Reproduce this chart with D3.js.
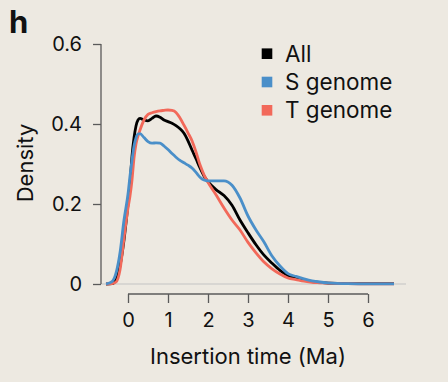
<!DOCTYPE html>
<html><head><meta charset="utf-8">
<script src="https://cdn.jsdelivr.net/npm/d3@7"></script>
<style>
html,body{margin:0;padding:0;background:#ede9e1;}
svg{display:block;font-family:Inter,Roboto,sans-serif;}
</style></head>
<body>
<svg id="chart" width="448" height="382"></svg>
<script>
// ---- data ----
const xs =     [-0.55,-0.4,-0.3,-0.2,-0.1,0,0.05,0.1,0.15,0.2,0.25,0.3,0.4,0.5,0.6,0.7,0.8,0.9,1.0,1.1,1.2,1.3,1.4,1.5,1.6,1.7,1.8,1.9,2.0,2.2,2.4,2.6,2.8,3.0,3.2,3.4,3.6,3.8,4.0,4.2,4.4,4.6,4.8,5.0,5.5,6.0,6.65];
const allVals =[0,0.001,0.01,0.045,0.11,0.2,0.25,0.32,0.365,0.395,0.41,0.414,0.41,0.408,0.414,0.42,0.417,0.41,0.406,0.402,0.396,0.388,0.377,0.358,0.335,0.313,0.29,0.27,0.256,0.236,0.221,0.197,0.16,0.128,0.098,0.072,0.052,0.034,0.021,0.016,0.01,0.006,0.004,0.002,0.001,0.001,0.001];
const sVals =  [0,0.006,0.027,0.078,0.16,0.225,0.27,0.31,0.345,0.365,0.375,0.376,0.366,0.356,0.352,0.353,0.352,0.345,0.336,0.326,0.317,0.309,0.303,0.297,0.29,0.279,0.267,0.26,0.258,0.258,0.258,0.247,0.215,0.17,0.135,0.105,0.07,0.045,0.026,0.019,0.013,0.008,0.005,0.003,0.001,0.0005,0.0005];
const tVals =  [0,0.001,0.005,0.035,0.115,0.19,0.22,0.26,0.315,0.35,0.37,0.385,0.41,0.424,0.428,0.431,0.433,0.434,0.435,0.434,0.429,0.415,0.397,0.378,0.358,0.33,0.298,0.273,0.254,0.223,0.19,0.16,0.135,0.104,0.078,0.055,0.038,0.025,0.015,0.011,0.007,0.004,0.003,0.002,0.001,0.0005,0.0005];
const seriesNames = ["All","S genome","T genome"];
const seriesColors = ["#000000","#4a8fc9","#f2695a"];
const xTicks = [0,1,2,3,4,5,6];
const yTicks = [0,0.2,0.4,0.6];
const yTickLabels = ["0","0.2","0.4","0.6"];

// ---- drawing ----
const svg = d3.select("#chart");
const x = d3.scaleLinear().domain([0,6]).range([128,368]);
const y = d3.scaleLinear().domain([0,0.6]).range([284,44]);
const axisColor = "#5a5a5a";
const FONT = "Inter, Roboto, sans-serif";

// panel letter
svg.append("text").attr("x",9).attr("y",33).attr("font-size",31).attr("font-weight","bold")
  .attr("font-family",FONT).attr("fill","#111").text("h");

// baseline
svg.append("line").attr("x1",101).attr("x2",406).attr("y1",y(0)).attr("y2",y(0))
  .attr("stroke","#c4c4c4").attr("stroke-width",1.2);

// y axis
const yAxis = svg.append("g").attr("transform","translate(101,0)")
  .call(d3.axisLeft(y).tickValues(yTicks).tickFormat((d,i)=>yTickLabels[i]).tickSize(8).tickPadding(11));
yAxis.select(".domain").attr("stroke",axisColor).attr("stroke-width",1.3).attr("d","M0,"+y(0.6)+"V"+y(0));
yAxis.selectAll(".tick line").attr("stroke",axisColor).attr("stroke-width",1.3);
yAxis.selectAll(".tick text").attr("font-size",20).attr("fill","#111").attr("font-family",FONT);

// x axis
const xAxis = svg.append("g").attr("transform","translate(0,294)")
  .call(d3.axisBottom(x).tickValues(xTicks).tickFormat(d3.format("d")).tickSize(9).tickPadding(10));
xAxis.select(".domain").attr("stroke",axisColor).attr("stroke-width",1.3).attr("d","M"+x(0)+",0H"+x(6));
xAxis.selectAll(".tick line").attr("stroke",axisColor).attr("stroke-width",1.3);
xAxis.selectAll(".tick text").attr("font-size",20).attr("fill","#111").attr("font-family",FONT);

// axis titles
svg.append("text").attr("x",248).attr("y",364).attr("text-anchor","middle").attr("font-family",FONT)
  .attr("font-size",22).attr("fill","#111").text("Insertion time (Ma)");
svg.append("text").attr("transform","translate(33,163) rotate(-90)").attr("text-anchor","middle")
  .attr("font-family",FONT).attr("font-size",22).attr("fill","#111").text("Density");

// lines
const line = d3.line().x(d=>x(d[0])).y(d=>y(d[1])).curve(d3.curveMonotoneX);
const seriesData = [allVals,sVals,tVals];
const drawOrder = [0,2,1];
drawOrder.forEach(i=>{
  svg.append("path").datum(xs.map((v,j)=>[v,seriesData[i][j]]))
    .attr("d",line).attr("fill","none").attr("stroke",seriesColors[i])
    .attr("stroke-width",2.8).attr("stroke-linejoin","round");
});

// legend
const leg = svg.append("g");
seriesNames.forEach((n,i)=>{
  const cy = 53.7 + i*28.3;
  leg.append("rect").attr("x",261.7).attr("y",cy-5.3).attr("width",10.6).attr("height",10.6)
    .attr("fill",seriesColors[i]);
  leg.append("text").attr("x",285).attr("y",cy+8).attr("font-family",FONT)
    .attr("font-size",22.5).attr("fill","#111").text(n);
});
</script>
</body></html>
